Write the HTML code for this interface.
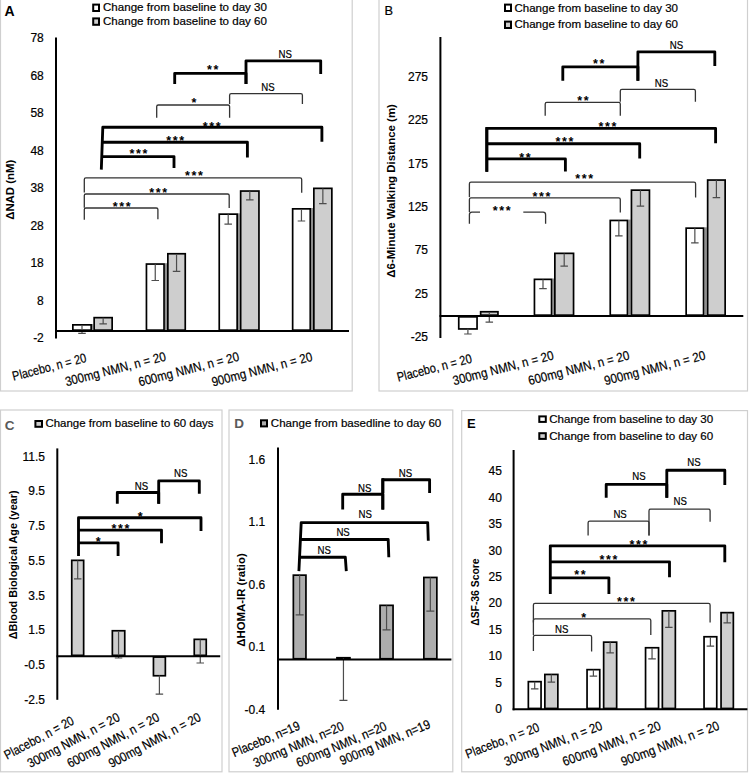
<!DOCTYPE html>
<html><head><meta charset="utf-8"><style>
html,body{margin:0;padding:0;background:#fff;}
svg{display:block;font-family:"Liberation Sans", sans-serif;}
</style></head><body>
<svg width="749" height="773" viewBox="0 0 749 773">
<rect x="0" y="0" width="749" height="773" fill="#fff"/>
<rect x="0.5" y="-2" width="351.7" height="393" fill="none" stroke="#cfcfcf" stroke-width="1.2"/>
<text x="4.5" y="16" font-size="14" font-weight="bold" fill="#000">A</text>
<rect x="93.2" y="4.6" width="5.799999999999997" height="6.4" fill="#ffffff" stroke="#000" stroke-width="2"/>
<rect x="93.2" y="18.4" width="5.799999999999997" height="6.400000000000002" fill="#cecece" stroke="#000" stroke-width="2"/>
<text x="103" y="11.4" font-size="11.5" textLength="164" lengthAdjust="spacingAndGlyphs" fill="#000" stroke="#000" stroke-width="0.2">Change from baseline to day 30</text>
<text x="103" y="25.2" font-size="11.5" textLength="164" lengthAdjust="spacingAndGlyphs" fill="#000" stroke="#000" stroke-width="0.2">Change from baseline to day 60</text>
<text x="43.8" y="42.3" font-size="12" text-anchor="end" fill="#000" stroke="#000" stroke-width="0.2">78</text>
<text x="43.8" y="79.8" font-size="12" text-anchor="end" fill="#000" stroke="#000" stroke-width="0.2">68</text>
<text x="43.8" y="117.3" font-size="12" text-anchor="end" fill="#000" stroke="#000" stroke-width="0.2">58</text>
<text x="43.8" y="154.8" font-size="12" text-anchor="end" fill="#000" stroke="#000" stroke-width="0.2">48</text>
<text x="43.8" y="192.3" font-size="12" text-anchor="end" fill="#000" stroke="#000" stroke-width="0.2">38</text>
<text x="43.8" y="229.8" font-size="12" text-anchor="end" fill="#000" stroke="#000" stroke-width="0.2">28</text>
<text x="43.8" y="267.3" font-size="12" text-anchor="end" fill="#000" stroke="#000" stroke-width="0.2">18</text>
<text x="43.8" y="304.8" font-size="12" text-anchor="end" fill="#000" stroke="#000" stroke-width="0.2">8</text>
<text x="43.8" y="342.3" font-size="12" text-anchor="end" fill="#000" stroke="#000" stroke-width="0.2">-2</text>
<text x="14.5" y="189.8" font-size="11" text-anchor="middle" font-weight="bold" textLength="60" lengthAdjust="spacingAndGlyphs" transform="rotate(-90 14.5 189.8)" fill="#000">&#916;NAD (nM)</text>
<rect x="92.00" y="324.00" width="1.30" height="7.00" fill="#8f8f8f"/>
<rect x="72.85" y="324.85" width="18.30" height="5.30" fill="#ffffff" stroke="#000" stroke-width="1.7"/>
<rect x="94.15" y="317.65" width="18.00" height="12.50" fill="#cecece" stroke="#000" stroke-width="1.7"/>
<path d="M82.00,325.00 V333.30 M78.25,333.30 H85.75" stroke="#4d4d4d" stroke-width="1.2" fill="none"/>
<path d="M103.15,317.80 V323.80 M99.40,323.80 H106.90" stroke="#4d4d4d" stroke-width="1.2" fill="none"/>
<rect x="164.90" y="263.20" width="2.10" height="67.80" fill="#8f8f8f"/>
<rect x="146.45" y="264.05" width="17.60" height="66.10" fill="#ffffff" stroke="#000" stroke-width="1.7"/>
<rect x="167.85" y="253.75" width="17.40" height="76.40" fill="#cecece" stroke="#000" stroke-width="1.7"/>
<path d="M155.25,264.20 V280.50 M151.50,280.50 H159.00" stroke="#4d4d4d" stroke-width="1.2" fill="none"/>
<path d="M176.55,253.90 V271.40 M172.80,271.40 H180.30" stroke="#4d4d4d" stroke-width="1.2" fill="none"/>
<rect x="238.00" y="213.30" width="1.80" height="117.70" fill="#8f8f8f"/>
<rect x="219.25" y="214.15" width="17.90" height="116.00" fill="#ffffff" stroke="#000" stroke-width="1.7"/>
<rect x="240.65" y="191.05" width="18.30" height="139.10" fill="#cecece" stroke="#000" stroke-width="1.7"/>
<path d="M228.20,214.30 V224.10 M224.45,224.10 H231.95" stroke="#4d4d4d" stroke-width="1.2" fill="none"/>
<path d="M249.80,191.20 V199.90 M246.05,199.90 H253.55" stroke="#4d4d4d" stroke-width="1.2" fill="none"/>
<rect x="311.10" y="208.00" width="1.90" height="123.00" fill="#8f8f8f"/>
<rect x="292.65" y="208.85" width="17.60" height="121.30" fill="#ffffff" stroke="#000" stroke-width="1.7"/>
<rect x="313.85" y="188.35" width="18.00" height="141.80" fill="#cecece" stroke="#000" stroke-width="1.7"/>
<path d="M301.45,209.00 V221.00 M297.70,221.00 H305.20" stroke="#4d4d4d" stroke-width="1.2" fill="none"/>
<path d="M322.85,188.50 V203.60 M319.10,203.60 H326.60" stroke="#4d4d4d" stroke-width="1.2" fill="none"/>
<line x1="56" y1="37.5" x2="56" y2="338.6" stroke="#000" stroke-width="2"/>
<line x1="55" y1="331" x2="349" y2="331" stroke="#000" stroke-width="2"/>
<path d="M174.7,84 L174.7,73.3 H246 L246,84" fill="none" stroke="#000" stroke-width="2.85" stroke-linejoin="round" stroke-linecap="butt"/>
<path d="M246,84 L246,60.8 H320.7 L320.7,74" fill="none" stroke="#000" stroke-width="2.85" stroke-linejoin="round" stroke-linecap="butt"/>
<path d="M101.3,169.6 L102.8,127.2 H321.9 L321.9,141.8" fill="none" stroke="#000" stroke-width="2.85" stroke-linejoin="round" stroke-linecap="butt"/>
<path d="M102.2,142.2 L102.2,142.2 H247.4 L247.4,157.4" fill="none" stroke="#000" stroke-width="2.85" stroke-linejoin="round" stroke-linecap="butt"/>
<path d="M101.8,156.6 L101.8,156.6 H174 L174,168" fill="none" stroke="#000" stroke-width="2.85" stroke-linejoin="round" stroke-linecap="butt"/>
<path d="M156.7,117.8 V106.6 Q156.7,105 158.29999999999998,105 H228.0 Q229.6,105 229.6,106.6 V117.8" fill="none" stroke="#333" stroke-width="1.3"/>
<path d="M229.6,104 V95.3 Q229.6,93.7 231.2,93.7 H300.79999999999995 Q302.4,93.7 302.4,95.3 V104" fill="none" stroke="#333" stroke-width="1.3"/>
<path d="M84.3,192.4 V179.5 Q84.3,177.9 85.89999999999999,177.9 H300.09999999999997 Q301.7,177.9 301.7,179.5 V192.8" fill="none" stroke="#333" stroke-width="1.3"/>
<path d="M84.3,207.7 V195.6 Q84.3,194 85.89999999999999,194 H227.6 Q229.2,194 229.2,195.6 V208" fill="none" stroke="#333" stroke-width="1.3"/>
<path d="M84.3,219.7 V209.6 Q84.3,208 85.89999999999999,208 H156.3 Q157.9,208 157.9,209.6 V219.3" fill="none" stroke="#333" stroke-width="1.3"/>
<text x="209.40" y="74.00" font-size="12.5" font-weight="bold" text-anchor="middle">*</text>
<text x="215.90" y="74.00" font-size="12.5" font-weight="bold" text-anchor="middle">*</text>
<text x="285.3" y="58.4" font-size="11" text-anchor="middle" textLength="13.4" lengthAdjust="spacingAndGlyphs" fill="#000" stroke="#000" stroke-width="0.2">NS</text>
<text x="193.85" y="106.55" font-size="12.5" font-weight="bold" text-anchor="middle">*</text>
<text x="267.9" y="91.3" font-size="11" text-anchor="middle" textLength="13.4" lengthAdjust="spacingAndGlyphs" fill="#000" stroke="#000" stroke-width="0.2">NS</text>
<text x="205.25" y="130.50" font-size="12.5" font-weight="bold" text-anchor="middle">*</text>
<text x="211.75" y="130.50" font-size="12.5" font-weight="bold" text-anchor="middle">*</text>
<text x="218.25" y="130.50" font-size="12.5" font-weight="bold" text-anchor="middle">*</text>
<text x="168.60" y="145.25" font-size="12.5" font-weight="bold" text-anchor="middle">*</text>
<text x="175.10" y="145.25" font-size="12.5" font-weight="bold" text-anchor="middle">*</text>
<text x="181.60" y="145.25" font-size="12.5" font-weight="bold" text-anchor="middle">*</text>
<text x="132.00" y="158.40" font-size="12.5" font-weight="bold" text-anchor="middle">*</text>
<text x="138.50" y="158.40" font-size="12.5" font-weight="bold" text-anchor="middle">*</text>
<text x="145.00" y="158.40" font-size="12.5" font-weight="bold" text-anchor="middle">*</text>
<text x="187.50" y="180.20" font-size="12.5" font-weight="bold" text-anchor="middle">*</text>
<text x="194.00" y="180.20" font-size="12.5" font-weight="bold" text-anchor="middle">*</text>
<text x="200.50" y="180.20" font-size="12.5" font-weight="bold" text-anchor="middle">*</text>
<text x="151.75" y="196.70" font-size="12.5" font-weight="bold" text-anchor="middle">*</text>
<text x="158.25" y="196.70" font-size="12.5" font-weight="bold" text-anchor="middle">*</text>
<text x="164.75" y="196.70" font-size="12.5" font-weight="bold" text-anchor="middle">*</text>
<text x="115.10" y="210.80" font-size="12.5" font-weight="bold" text-anchor="middle">*</text>
<text x="121.60" y="210.80" font-size="12.5" font-weight="bold" text-anchor="middle">*</text>
<text x="128.10" y="210.80" font-size="12.5" font-weight="bold" text-anchor="middle">*</text>
<text x="87.2" y="361.8" font-size="13" text-anchor="end" textLength="76" lengthAdjust="spacingAndGlyphs" transform="rotate(-14.5 87.2 361.8)" fill="#000" stroke="#000" stroke-width="0.2">Placebo, n = 20</text>
<text x="166.6" y="360.3" font-size="13" text-anchor="end" textLength="103.5" lengthAdjust="spacingAndGlyphs" transform="rotate(-14.5 166.6 360.3)" fill="#000" stroke="#000" stroke-width="0.2">300mg NMN, n = 20</text>
<text x="239.9" y="360.5" font-size="13" text-anchor="end" textLength="103.5" lengthAdjust="spacingAndGlyphs" transform="rotate(-14.5 239.9 360.5)" fill="#000" stroke="#000" stroke-width="0.2">600mg NMN, n = 20</text>
<text x="313.1" y="360.6" font-size="13" text-anchor="end" textLength="103.5" lengthAdjust="spacingAndGlyphs" transform="rotate(-14.5 313.1 360.6)" fill="#000" stroke="#000" stroke-width="0.2">900mg NMN, n = 20</text>
<rect x="379" y="-2" width="368.5" height="393" fill="none" stroke="#cfcfcf" stroke-width="1.2"/>
<text x="384.6" y="15" font-size="12.8" fill="#000" stroke="#000" stroke-width="0.2">B</text>
<rect x="505" y="4.6" width="6" height="6.4" fill="#ffffff" stroke="#000" stroke-width="2"/>
<rect x="505" y="21.6" width="6" height="6.399999999999999" fill="#cecece" stroke="#000" stroke-width="2"/>
<text x="514.4" y="11.6" font-size="11.5" textLength="163.6" lengthAdjust="spacingAndGlyphs" fill="#000" stroke="#000" stroke-width="0.2">Change from baseline to day 30</text>
<text x="514.4" y="28.4" font-size="11.5" textLength="163.6" lengthAdjust="spacingAndGlyphs" fill="#000" stroke="#000" stroke-width="0.2">Change from baseline to day 60</text>
<text x="428" y="80.89250000000003" font-size="12" text-anchor="end" fill="#000" stroke="#000" stroke-width="0.2">275</text>
<text x="428" y="124.25750000000004" font-size="12" text-anchor="end" fill="#000" stroke="#000" stroke-width="0.2">225</text>
<text x="428" y="167.62250000000003" font-size="12" text-anchor="end" fill="#000" stroke="#000" stroke-width="0.2">175</text>
<text x="428" y="210.98750000000004" font-size="12" text-anchor="end" fill="#000" stroke="#000" stroke-width="0.2">125</text>
<text x="428" y="254.35250000000002" font-size="12" text-anchor="end" fill="#000" stroke="#000" stroke-width="0.2">75</text>
<text x="428" y="297.71750000000003" font-size="12" text-anchor="end" fill="#000" stroke="#000" stroke-width="0.2">25</text>
<text x="428" y="341.08250000000004" font-size="12" text-anchor="end" fill="#000" stroke="#000" stroke-width="0.2">-25</text>
<text x="395.3" y="190.9" font-size="11" text-anchor="middle" font-weight="bold" textLength="173.5" lengthAdjust="spacingAndGlyphs" transform="rotate(-90 395.3 190.9)" fill="#000">&#916;6-Minute Walking Distance (m)</text>
<rect x="458.75" y="316.85" width="18.30" height="12.10" fill="#ffffff" stroke="#000" stroke-width="1.7"/>
<rect x="480.65" y="311.75" width="17.30" height="3.40" fill="#cecece" stroke="#000" stroke-width="1.7"/>
<path d="M467.90,328.80 V334.00 M464.15,334.00 H471.65" stroke="#4d4d4d" stroke-width="1.2" fill="none"/>
<path d="M489.30,311.90 V322.20 M485.55,322.20 H493.05" stroke="#4d4d4d" stroke-width="1.2" fill="none"/>
<rect x="552.40" y="278.50" width="1.60" height="37.50" fill="#8f8f8f"/>
<rect x="534.45" y="279.35" width="17.10" height="35.80" fill="#ffffff" stroke="#000" stroke-width="1.7"/>
<rect x="554.85" y="253.35" width="18.70" height="61.80" fill="#cecece" stroke="#000" stroke-width="1.7"/>
<path d="M543.00,279.50 V288.60 M539.25,288.60 H546.75" stroke="#4d4d4d" stroke-width="1.2" fill="none"/>
<path d="M564.20,253.50 V266.20 M560.45,266.20 H567.95" stroke="#4d4d4d" stroke-width="1.2" fill="none"/>
<rect x="628.30" y="219.60" width="2.30" height="96.40" fill="#8f8f8f"/>
<rect x="610.25" y="220.45" width="17.20" height="94.70" fill="#ffffff" stroke="#000" stroke-width="1.7"/>
<rect x="631.45" y="190.15" width="18.00" height="125.00" fill="#cecece" stroke="#000" stroke-width="1.7"/>
<path d="M618.85,220.60 V235.90 M615.10,235.90 H622.60" stroke="#4d4d4d" stroke-width="1.2" fill="none"/>
<path d="M640.45,190.30 V206.10 M636.70,206.10 H644.20" stroke="#4d4d4d" stroke-width="1.2" fill="none"/>
<rect x="704.40" y="227.30" width="2.40" height="88.70" fill="#8f8f8f"/>
<rect x="686.15" y="228.15" width="17.40" height="87.00" fill="#ffffff" stroke="#000" stroke-width="1.7"/>
<rect x="707.65" y="180.05" width="17.50" height="135.10" fill="#cecece" stroke="#000" stroke-width="1.7"/>
<path d="M694.85,228.30 V242.90 M691.10,242.90 H698.60" stroke="#4d4d4d" stroke-width="1.2" fill="none"/>
<path d="M716.40,180.20 V197.60 M712.65,197.60 H720.15" stroke="#4d4d4d" stroke-width="1.2" fill="none"/>
<line x1="440.4" y1="37" x2="440.4" y2="338" stroke="#000" stroke-width="2"/>
<line x1="439.5" y1="316.1" x2="743.3" y2="316.1" stroke="#000" stroke-width="2"/>
<path d="M562.8,80.8 L562.8,66.8 H637.9 L637.9,80.8" fill="none" stroke="#000" stroke-width="2.85" stroke-linejoin="round" stroke-linecap="butt"/>
<path d="M637.9,80.8 L637.9,51.8 H714.8 L714.8,66" fill="none" stroke="#000" stroke-width="2.85" stroke-linejoin="round" stroke-linecap="butt"/>
<path d="M486.8,171.8 L486.8,128.3 H715.6 L715.6,143.2" fill="none" stroke="#000" stroke-width="2.85" stroke-linejoin="round" stroke-linecap="butt"/>
<path d="M486.8,143.7 L486.8,143.7 H639.7 L639.7,158.5" fill="none" stroke="#000" stroke-width="2.85" stroke-linejoin="round" stroke-linecap="butt"/>
<path d="M486.8,158.9 L486.8,158.9 H565.4 L565.4,171.5" fill="none" stroke="#000" stroke-width="2.85" stroke-linejoin="round" stroke-linecap="butt"/>
<path d="M486.8,127 V171.8" fill="none" stroke="#000" stroke-width="2.85"/>
<path d="M545.2,115.8 V104.0 Q545.2,102.4 546.8000000000001,102.4 H618.6999999999999 Q620.3,102.4 620.3,104.0 V115.8" fill="none" stroke="#333" stroke-width="1.3"/>
<path d="M620.3,101.8 V91.0 Q620.3,89.4 621.9,89.4 H693.8 Q695.4,89.4 695.4,91.0 V101.8" fill="none" stroke="#333" stroke-width="1.3"/>
<path d="M469.4,197 V183.7 Q469.4,182.1 471.0,182.1 H694.0 Q695.6,182.1 695.6,183.7 V197.6" fill="none" stroke="#333" stroke-width="1.3"/>
<path d="M469.4,212 V199.5 Q469.4,197.9 471.0,197.9 H618.6999999999999 Q620.3,197.9 620.3,199.5 V212.6" fill="none" stroke="#333" stroke-width="1.3"/>
<path d="M469.4,223.7 V214.7 Q469.4,212.2 471.9,212.2 H480 M523.3,212.2 H543.1 Q545.6,212.2 545.6,214.7 V223.7" fill="none" stroke="#333" stroke-width="1.3"/>
<text x="595.50" y="67.65" font-size="12.5" font-weight="bold" text-anchor="middle">*</text>
<text x="602.00" y="67.65" font-size="12.5" font-weight="bold" text-anchor="middle">*</text>
<text x="676.4" y="49.2" font-size="11" text-anchor="middle" textLength="13.4" lengthAdjust="spacingAndGlyphs" fill="#000" stroke="#000" stroke-width="0.2">NS</text>
<text x="579.75" y="105.10" font-size="12.5" font-weight="bold" text-anchor="middle">*</text>
<text x="586.25" y="105.10" font-size="12.5" font-weight="bold" text-anchor="middle">*</text>
<text x="661.4" y="86.8" font-size="11" text-anchor="middle" textLength="13.4" lengthAdjust="spacingAndGlyphs" fill="#000" stroke="#000" stroke-width="0.2">NS</text>
<text x="600.95" y="130.60" font-size="12.5" font-weight="bold" text-anchor="middle">*</text>
<text x="607.45" y="130.60" font-size="12.5" font-weight="bold" text-anchor="middle">*</text>
<text x="613.95" y="130.60" font-size="12.5" font-weight="bold" text-anchor="middle">*</text>
<text x="558.00" y="145.95" font-size="12.5" font-weight="bold" text-anchor="middle">*</text>
<text x="564.50" y="145.95" font-size="12.5" font-weight="bold" text-anchor="middle">*</text>
<text x="571.00" y="145.95" font-size="12.5" font-weight="bold" text-anchor="middle">*</text>
<text x="521.75" y="161.70" font-size="12.5" font-weight="bold" text-anchor="middle">*</text>
<text x="528.25" y="161.70" font-size="12.5" font-weight="bold" text-anchor="middle">*</text>
<text x="577.60" y="183.20" font-size="12.5" font-weight="bold" text-anchor="middle">*</text>
<text x="584.10" y="183.20" font-size="12.5" font-weight="bold" text-anchor="middle">*</text>
<text x="590.60" y="183.20" font-size="12.5" font-weight="bold" text-anchor="middle">*</text>
<text x="534.90" y="200.95" font-size="12.5" font-weight="bold" text-anchor="middle">*</text>
<text x="541.40" y="200.95" font-size="12.5" font-weight="bold" text-anchor="middle">*</text>
<text x="547.90" y="200.95" font-size="12.5" font-weight="bold" text-anchor="middle">*</text>
<text x="495.10" y="214.80" font-size="12.5" font-weight="bold" text-anchor="middle">*</text>
<text x="501.60" y="214.80" font-size="12.5" font-weight="bold" text-anchor="middle">*</text>
<text x="508.10" y="214.80" font-size="12.5" font-weight="bold" text-anchor="middle">*</text>
<text x="472.7" y="362.5" font-size="13" text-anchor="end" textLength="77" lengthAdjust="spacingAndGlyphs" transform="rotate(-14.5 472.7 362.5)" fill="#000" stroke="#000" stroke-width="0.2">Placebo, n = 20</text>
<text x="554.6" y="359.2" font-size="13" text-anchor="end" textLength="104" lengthAdjust="spacingAndGlyphs" transform="rotate(-14.5 554.6 359.2)" fill="#000" stroke="#000" stroke-width="0.2">300mg NMN, n = 20</text>
<text x="630.2" y="359.2" font-size="13" text-anchor="end" textLength="104" lengthAdjust="spacingAndGlyphs" transform="rotate(-14.5 630.2 359.2)" fill="#000" stroke="#000" stroke-width="0.2">600mg NMN, n = 20</text>
<text x="706.2" y="359.2" font-size="13" text-anchor="end" textLength="104" lengthAdjust="spacingAndGlyphs" transform="rotate(-14.5 706.2 359.2)" fill="#000" stroke="#000" stroke-width="0.2">900mg NMN, n = 20</text>
<rect x="0.5" y="410" width="221.5" height="361.79999999999995" fill="none" stroke="#cfcfcf" stroke-width="1.2"/>
<text x="4.8" y="429.6" font-size="13.5" font-weight="bold" fill="#595959">C</text>
<rect x="35.4" y="421" width="6.600000000000001" height="5.800000000000011" fill="#cecece" stroke="#000" stroke-width="2"/>
<text x="45.4" y="427.2" font-size="11.5" textLength="168.2" lengthAdjust="spacingAndGlyphs" fill="#000" stroke="#000" stroke-width="0.2">Change from baseline to 60 days</text>
<text x="45" y="460.5" font-size="12" text-anchor="end" fill="#000" stroke="#000" stroke-width="0.2">11.5</text>
<text x="45" y="495.28000000000003" font-size="12" text-anchor="end" fill="#000" stroke="#000" stroke-width="0.2">9.5</text>
<text x="45" y="530.06" font-size="12" text-anchor="end" fill="#000" stroke="#000" stroke-width="0.2">7.5</text>
<text x="45" y="564.8399999999999" font-size="12" text-anchor="end" fill="#000" stroke="#000" stroke-width="0.2">5.5</text>
<text x="45" y="599.6199999999999" font-size="12" text-anchor="end" fill="#000" stroke="#000" stroke-width="0.2">3.5</text>
<text x="45" y="634.4" font-size="12" text-anchor="end" fill="#000" stroke="#000" stroke-width="0.2">1.5</text>
<text x="45" y="669.18" font-size="12" text-anchor="end" fill="#000" stroke="#000" stroke-width="0.2">-0.5</text>
<text x="45" y="703.9599999999999" font-size="12" text-anchor="end" fill="#000" stroke="#000" stroke-width="0.2">-2.5</text>
<text x="16.7" y="564.9" font-size="11" text-anchor="middle" font-weight="bold" textLength="148.8" lengthAdjust="spacingAndGlyphs" transform="rotate(-90 16.7 564.9)" fill="#000">&#916;Blood Biological Age (year)</text>
<rect x="71.75" y="560.35" width="11.90" height="95.00" fill="#cecece" stroke="#000" stroke-width="1.7"/>
<path d="M77.70,560.50 V578.80 M73.95,578.80 H81.45" stroke="#4d4d4d" stroke-width="1.2" fill="none"/>
<rect x="112.35" y="630.75" width="12.40" height="24.60" fill="#cecece" stroke="#000" stroke-width="1.7"/>
<path d="M118.55,630.90 V658.00 M114.80,658.00 H122.30" stroke="#4d4d4d" stroke-width="1.2" fill="none"/>
<rect x="153.45" y="657.05" width="11.90" height="18.70" fill="#cecece" stroke="#000" stroke-width="1.7"/>
<path d="M159.40,675.60 V694.10 M155.65,694.10 H163.15" stroke="#4d4d4d" stroke-width="1.2" fill="none"/>
<rect x="194.25" y="639.35" width="12.00" height="16.00" fill="#cecece" stroke="#000" stroke-width="1.7"/>
<path d="M200.25,639.50 V663.00 M196.50,663.00 H204.00" stroke="#4d4d4d" stroke-width="1.2" fill="none"/>
<line x1="57.3" y1="448.4" x2="57.3" y2="699.8" stroke="#000" stroke-width="2"/>
<line x1="56.5" y1="656.2" x2="220.2" y2="656.2" stroke="#000" stroke-width="2"/>
<path d="M117.3,503.8 L117.3,492.5 H158.7 L158.7,503.8" fill="none" stroke="#000" stroke-width="2.85" stroke-linejoin="round" stroke-linecap="butt"/>
<path d="M158.7,503.8 L158.7,480.9 H199.3 L199.3,493.8" fill="none" stroke="#000" stroke-width="2.85" stroke-linejoin="round" stroke-linecap="butt"/>
<path d="M78.5,556.1 L78.5,517.7 H201 L201,531.1" fill="none" stroke="#000" stroke-width="2.85" stroke-linejoin="round" stroke-linecap="butt"/>
<path d="M78.5,530.1 L78.5,530.1 H161.5 L161.5,543.3" fill="none" stroke="#000" stroke-width="2.85" stroke-linejoin="round" stroke-linecap="butt"/>
<path d="M78.5,542.9 L78.5,542.9 H118.1 L118.1,556.1" fill="none" stroke="#000" stroke-width="2.85" stroke-linejoin="round" stroke-linecap="butt"/>
<text x="141.4" y="489.5" font-size="11" text-anchor="middle" textLength="13.4" lengthAdjust="spacingAndGlyphs" fill="#000" stroke="#000" stroke-width="0.2">NS</text>
<text x="180.8" y="477.1" font-size="11" text-anchor="middle" textLength="13.4" lengthAdjust="spacingAndGlyphs" fill="#000" stroke="#000" stroke-width="0.2">NS</text>
<text x="140.20" y="520.80" font-size="12.5" font-weight="bold" text-anchor="middle">*</text>
<text x="114.00" y="532.70" font-size="12.5" font-weight="bold" text-anchor="middle">*</text>
<text x="120.50" y="532.70" font-size="12.5" font-weight="bold" text-anchor="middle">*</text>
<text x="127.00" y="532.70" font-size="12.5" font-weight="bold" text-anchor="middle">*</text>
<text x="98.25" y="545.55" font-size="12.5" font-weight="bold" text-anchor="middle">*</text>
<text x="75" y="723.6" font-size="13" text-anchor="end" textLength="77" lengthAdjust="spacingAndGlyphs" transform="rotate(-28 75 723.6)" fill="#000" stroke="#000" stroke-width="0.2">Placebo, n = 20</text>
<text x="120.8" y="720" font-size="13" text-anchor="end" textLength="102.5" lengthAdjust="spacingAndGlyphs" transform="rotate(-28 120.8 720)" fill="#000" stroke="#000" stroke-width="0.2">300mg NMN, n = 20</text>
<text x="160.4" y="720" font-size="13" text-anchor="end" textLength="102.5" lengthAdjust="spacingAndGlyphs" transform="rotate(-28 160.4 720)" fill="#000" stroke="#000" stroke-width="0.2">600mg NMN, n = 20</text>
<text x="201.9" y="720" font-size="13" text-anchor="end" textLength="102.5" lengthAdjust="spacingAndGlyphs" transform="rotate(-28 201.9 720)" fill="#000" stroke="#000" stroke-width="0.2">900mg NMN, n = 20</text>
<rect x="229" y="410" width="223.8" height="361.79999999999995" fill="none" stroke="#cfcfcf" stroke-width="1.2"/>
<text x="234.3" y="427.6" font-size="13.5" font-weight="bold" fill="#595959">D</text>
<rect x="261" y="420.3" width="6" height="6.099999999999966" fill="#adadad" stroke="#000" stroke-width="2"/>
<text x="270.8" y="426.8" font-size="11.5" textLength="170.5" lengthAdjust="spacingAndGlyphs" fill="#000" stroke="#000" stroke-width="0.2">Change from basedline to day 60</text>
<text x="265.2" y="464.0" font-size="12" text-anchor="end" fill="#000" stroke="#000" stroke-width="0.2">1.6</text>
<text x="265.2" y="526.375" font-size="12" text-anchor="end" fill="#000" stroke="#000" stroke-width="0.2">1.1</text>
<text x="265.2" y="588.75" font-size="12" text-anchor="end" fill="#000" stroke="#000" stroke-width="0.2">0.6</text>
<text x="265.2" y="651.125" font-size="12" text-anchor="end" fill="#000" stroke="#000" stroke-width="0.2">0.1</text>
<text x="265.2" y="713.5" font-size="12" text-anchor="end" fill="#000" stroke="#000" stroke-width="0.2">-0.4</text>
<text x="244.7" y="600" font-size="11" text-anchor="middle" font-weight="bold" textLength="93.4" lengthAdjust="spacingAndGlyphs" transform="rotate(-90 244.7 600)" fill="#000">&#916;HOMA-IR (ratio)</text>
<rect x="293.35" y="575.15" width="12.60" height="83.60" fill="#adadad" stroke="#000" stroke-width="1.7"/>
<path d="M299.65,575.30 V614.90 M295.65,614.90 H303.65" stroke="#4d4d4d" stroke-width="1.2" fill="none"/>
<rect x="336.95" y="657.75" width="13.00" height="1.00" fill="#adadad" stroke="#000" stroke-width="1.7"/>
<path d="M343.45,657.90 V700.30 M339.45,700.30 H347.45" stroke="#4d4d4d" stroke-width="1.2" fill="none"/>
<rect x="380.05" y="605.35" width="13.00" height="53.40" fill="#adadad" stroke="#000" stroke-width="1.7"/>
<path d="M386.55,605.50 V629.90 M382.55,629.90 H390.55" stroke="#4d4d4d" stroke-width="1.2" fill="none"/>
<rect x="423.85" y="577.45" width="13.00" height="81.30" fill="#adadad" stroke="#000" stroke-width="1.7"/>
<path d="M430.35,577.60 V611.10 M426.35,611.10 H434.35" stroke="#4d4d4d" stroke-width="1.2" fill="none"/>
<line x1="278" y1="447.5" x2="278" y2="709.7" stroke="#000" stroke-width="2"/>
<line x1="277" y1="659.6" x2="451.4" y2="659.6" stroke="#000" stroke-width="2"/>
<path d="M382.8,493.1 L382.8,479.7 H429.6 L429.6,493.1" fill="none" stroke="#000" stroke-width="2.85" stroke-linejoin="round" stroke-linecap="butt"/>
<path d="M342.7,509.6 L342.7,494.2 H382.8 L382.8,509.6" fill="none" stroke="#000" stroke-width="2.85" stroke-linejoin="round" stroke-linecap="butt"/>
<path d="M382.8,478.2 V509.6" fill="none" stroke="#000" stroke-width="2.85"/>
<path d="M298.9,571.1 L301.2,522.6 H427.7 L428.3,540.8" fill="none" stroke="#000" stroke-width="2.85" stroke-linejoin="round" stroke-linecap="butt"/>
<path d="M300.1,539.5 L300.1,539.5 H388.2 L388.8,557.2" fill="none" stroke="#000" stroke-width="2.85" stroke-linejoin="round" stroke-linecap="butt"/>
<path d="M298.9,557.2 L299.7,557.2 H345.3 L346.3,571.1" fill="none" stroke="#000" stroke-width="2.85" stroke-linejoin="round" stroke-linecap="butt"/>
<text x="405.4" y="476.7" font-size="11" text-anchor="middle" textLength="13.4" lengthAdjust="spacingAndGlyphs" fill="#000" stroke="#000" stroke-width="0.2">NS</text>
<text x="364.8" y="491.6" font-size="11" text-anchor="middle" textLength="13.4" lengthAdjust="spacingAndGlyphs" fill="#000" stroke="#000" stroke-width="0.2">NS</text>
<text x="365.3" y="518.1" font-size="11" text-anchor="middle" textLength="13.4" lengthAdjust="spacingAndGlyphs" fill="#000" stroke="#000" stroke-width="0.2">NS</text>
<text x="343.1" y="536.3" font-size="11" text-anchor="middle" textLength="13.4" lengthAdjust="spacingAndGlyphs" fill="#000" stroke="#000" stroke-width="0.2">NS</text>
<text x="324.3" y="553.6" font-size="11" text-anchor="middle" textLength="13.4" lengthAdjust="spacingAndGlyphs" fill="#000" stroke="#000" stroke-width="0.2">NS</text>
<text x="300.9" y="729" font-size="13" text-anchor="end" textLength="72.4" lengthAdjust="spacingAndGlyphs" transform="rotate(-23 300.9 729)" fill="#000" stroke="#000" stroke-width="0.2">Placebo, n=19</text>
<text x="344.8" y="729.6" font-size="13" text-anchor="end" textLength="96.9" lengthAdjust="spacingAndGlyphs" transform="rotate(-23 344.8 729.6)" fill="#000" stroke="#000" stroke-width="0.2">300mg NMN, n=20</text>
<text x="387.7" y="729.6" font-size="13" text-anchor="end" textLength="96.9" lengthAdjust="spacingAndGlyphs" transform="rotate(-23 387.7 729.6)" fill="#000" stroke="#000" stroke-width="0.2">600mg NMN, n=20</text>
<text x="431.3" y="727.4" font-size="13" text-anchor="end" textLength="96.9" lengthAdjust="spacingAndGlyphs" transform="rotate(-23 431.3 727.4)" fill="#000" stroke="#000" stroke-width="0.2">900mg NMN, n=19</text>
<rect x="461.7" y="410.6" width="285.8" height="361.19999999999993" fill="none" stroke="#cfcfcf" stroke-width="1.2"/>
<text x="467" y="427.7" font-size="13" font-weight="bold" fill="#000">E</text>
<rect x="539.3" y="416.4" width="6.5" height="5.5" fill="#ffffff" stroke="#000" stroke-width="2"/>
<rect x="539.3" y="433.2" width="6.5" height="5.699999999999989" fill="#cecece" stroke="#000" stroke-width="2"/>
<text x="549.2" y="422.6" font-size="11.5" textLength="164" lengthAdjust="spacingAndGlyphs" fill="#000" stroke="#000" stroke-width="0.2">Change from baseline to day 30</text>
<text x="549.2" y="439.9" font-size="11.5" textLength="164" lengthAdjust="spacingAndGlyphs" fill="#000" stroke="#000" stroke-width="0.2">Change from baseline to day 60</text>
<text x="501.9" y="475.4800000000001" font-size="12" text-anchor="end" fill="#000" stroke="#000" stroke-width="0.2">45</text>
<text x="501.9" y="501.86000000000007" font-size="12" text-anchor="end" fill="#000" stroke="#000" stroke-width="0.2">40</text>
<text x="501.9" y="528.24" font-size="12" text-anchor="end" fill="#000" stroke="#000" stroke-width="0.2">35</text>
<text x="501.9" y="554.62" font-size="12" text-anchor="end" fill="#000" stroke="#000" stroke-width="0.2">30</text>
<text x="501.9" y="581.0" font-size="12" text-anchor="end" fill="#000" stroke="#000" stroke-width="0.2">25</text>
<text x="501.9" y="607.38" font-size="12" text-anchor="end" fill="#000" stroke="#000" stroke-width="0.2">20</text>
<text x="501.9" y="633.76" font-size="12" text-anchor="end" fill="#000" stroke="#000" stroke-width="0.2">15</text>
<text x="501.9" y="660.14" font-size="12" text-anchor="end" fill="#000" stroke="#000" stroke-width="0.2">10</text>
<text x="501.9" y="686.52" font-size="12" text-anchor="end" fill="#000" stroke="#000" stroke-width="0.2">5</text>
<text x="501.9" y="712.9" font-size="12" text-anchor="end" fill="#000" stroke="#000" stroke-width="0.2">0</text>
<text x="479" y="592.1" font-size="11" text-anchor="middle" font-weight="bold" textLength="67.4" lengthAdjust="spacingAndGlyphs" transform="rotate(-90 479 592.1)" fill="#000">&#916;SF-36 Score</text>
<rect x="528.35" y="681.65" width="12.70" height="26.80" fill="#ffffff" stroke="#000" stroke-width="1.7"/>
<rect x="544.85" y="674.45" width="13.00" height="34.00" fill="#cecece" stroke="#000" stroke-width="1.7"/>
<path d="M534.70,681.80 V688.80 M530.95,688.80 H538.45" stroke="#4d4d4d" stroke-width="1.2" fill="none"/>
<path d="M551.35,674.60 V682.10 M547.60,682.10 H555.10" stroke="#4d4d4d" stroke-width="1.2" fill="none"/>
<rect x="587.05" y="669.65" width="12.70" height="38.80" fill="#ffffff" stroke="#000" stroke-width="1.7"/>
<rect x="603.65" y="642.15" width="13.00" height="66.30" fill="#cecece" stroke="#000" stroke-width="1.7"/>
<path d="M593.40,669.80 V676.20 M589.65,676.20 H597.15" stroke="#4d4d4d" stroke-width="1.2" fill="none"/>
<path d="M610.15,642.30 V652.80 M606.40,652.80 H613.90" stroke="#4d4d4d" stroke-width="1.2" fill="none"/>
<rect x="645.55" y="647.75" width="13.00" height="60.70" fill="#ffffff" stroke="#000" stroke-width="1.7"/>
<rect x="662.35" y="610.85" width="13.00" height="97.60" fill="#cecece" stroke="#000" stroke-width="1.7"/>
<path d="M652.05,647.90 V658.90 M648.30,658.90 H655.80" stroke="#4d4d4d" stroke-width="1.2" fill="none"/>
<path d="M668.85,611.00 V627.40 M665.10,627.40 H672.60" stroke="#4d4d4d" stroke-width="1.2" fill="none"/>
<rect x="704.05" y="636.75" width="12.70" height="71.70" fill="#ffffff" stroke="#000" stroke-width="1.7"/>
<rect x="721.05" y="612.65" width="12.30" height="95.80" fill="#cecece" stroke="#000" stroke-width="1.7"/>
<path d="M710.40,636.90 V646.10 M706.65,646.10 H714.15" stroke="#4d4d4d" stroke-width="1.2" fill="none"/>
<path d="M727.20,612.80 V622.80 M723.45,622.80 H730.95" stroke="#4d4d4d" stroke-width="1.2" fill="none"/>
<line x1="513.6" y1="450" x2="513.6" y2="710.3" stroke="#000" stroke-width="2"/>
<line x1="512.6" y1="709.3" x2="747.4" y2="709.3" stroke="#000" stroke-width="2"/>
<path d="M666.8,497.7 L666.8,470.2 H724.8 L724.8,484.9" fill="none" stroke="#000" stroke-width="2.85" stroke-linejoin="round" stroke-linecap="butt"/>
<path d="M606.2,497.7 L606.2,484.4 H666.8 L666.8,497.7" fill="none" stroke="#000" stroke-width="2.85" stroke-linejoin="round" stroke-linecap="butt"/>
<path d="M550.3,593.9 L550.3,545.8 H724.8 L724.8,562.3" fill="none" stroke="#000" stroke-width="2.85" stroke-linejoin="round" stroke-linecap="butt"/>
<path d="M550.3,561.8 L550.3,561.8 H669.5 L669.5,577.3" fill="none" stroke="#000" stroke-width="2.85" stroke-linejoin="round" stroke-linecap="butt"/>
<path d="M550.3,577.8 L550.3,577.8 H608.9 L608.9,593.9" fill="none" stroke="#000" stroke-width="2.85" stroke-linejoin="round" stroke-linecap="butt"/>
<path d="M649,535.6 V510.8 Q649,509.2 650.6,509.2 H708.5 Q710.1,509.2 710.1,510.8 V521.8" fill="none" stroke="#333" stroke-width="1.3"/>
<path d="M588.1,535.6 V522.8000000000001 Q588.1,521.2 589.7,521.2 H647.4 Q649,521.2 649,522.8000000000001 V535.6" fill="none" stroke="#333" stroke-width="1.3"/>
<path d="M533.4,622.6 V605.0 Q533.4,603.4 535.0,603.4 H708.5 Q710.1,603.4 710.1,605.0 V622.6" fill="none" stroke="#333" stroke-width="1.3"/>
<path d="M533.4,634.9 V620.4 Q533.4,618.8 535.0,618.8 H649.1999999999999 Q650.8,618.8 650.8,620.4 V634.9" fill="none" stroke="#333" stroke-width="1.3"/>
<path d="M533.4,650.9 V637.0 Q533.4,635.4 535.0,635.4 H590.0 Q591.6,635.4 591.6,637.0 V651.4" fill="none" stroke="#333" stroke-width="1.3"/>
<text x="694" y="465.7" font-size="11" text-anchor="middle" textLength="13.4" lengthAdjust="spacingAndGlyphs" fill="#000" stroke="#000" stroke-width="0.2">NS</text>
<text x="639" y="479.6" font-size="11" text-anchor="middle" textLength="13.4" lengthAdjust="spacingAndGlyphs" fill="#000" stroke="#000" stroke-width="0.2">NS</text>
<text x="680.2" y="504.9" font-size="11" text-anchor="middle" textLength="13.4" lengthAdjust="spacingAndGlyphs" fill="#000" stroke="#000" stroke-width="0.2">NS</text>
<text x="620.1" y="518.3" font-size="11" text-anchor="middle" textLength="13.4" lengthAdjust="spacingAndGlyphs" fill="#000" stroke="#000" stroke-width="0.2">NS</text>
<text x="632.00" y="549.40" font-size="12.5" font-weight="bold" text-anchor="middle">*</text>
<text x="638.50" y="549.40" font-size="12.5" font-weight="bold" text-anchor="middle">*</text>
<text x="645.00" y="549.40" font-size="12.5" font-weight="bold" text-anchor="middle">*</text>
<text x="602.00" y="563.80" font-size="12.5" font-weight="bold" text-anchor="middle">*</text>
<text x="608.50" y="563.80" font-size="12.5" font-weight="bold" text-anchor="middle">*</text>
<text x="615.00" y="563.80" font-size="12.5" font-weight="bold" text-anchor="middle">*</text>
<text x="576.75" y="579.10" font-size="12.5" font-weight="bold" text-anchor="middle">*</text>
<text x="583.25" y="579.10" font-size="12.5" font-weight="bold" text-anchor="middle">*</text>
<text x="619.40" y="605.70" font-size="12.5" font-weight="bold" text-anchor="middle">*</text>
<text x="625.90" y="605.70" font-size="12.5" font-weight="bold" text-anchor="middle">*</text>
<text x="632.40" y="605.70" font-size="12.5" font-weight="bold" text-anchor="middle">*</text>
<text x="583.70" y="621.80" font-size="12.5" font-weight="bold" text-anchor="middle">*</text>
<text x="561.8" y="632.7" font-size="11" text-anchor="middle" textLength="13.4" lengthAdjust="spacingAndGlyphs" fill="#000" stroke="#000" stroke-width="0.2">NS</text>
<text x="540.3" y="730.7" font-size="13" text-anchor="end" textLength="78" lengthAdjust="spacingAndGlyphs" transform="rotate(-21 540.3 730.7)" fill="#000" stroke="#000" stroke-width="0.2">Placebo, n = 20</text>
<text x="603.3" y="729.1" font-size="13" text-anchor="end" textLength="104" lengthAdjust="spacingAndGlyphs" transform="rotate(-21 603.3 729.1)" fill="#000" stroke="#000" stroke-width="0.2">300mg NMN, n = 20</text>
<text x="661.7" y="729.1" font-size="13" text-anchor="end" textLength="104" lengthAdjust="spacingAndGlyphs" transform="rotate(-21 661.7 729.1)" fill="#000" stroke="#000" stroke-width="0.2">600mg NMN, n = 20</text>
<text x="720.2" y="729.1" font-size="13" text-anchor="end" textLength="104" lengthAdjust="spacingAndGlyphs" transform="rotate(-21 720.2 729.1)" fill="#000" stroke="#000" stroke-width="0.2">900mg NMN, n = 20</text>
</svg></body></html>
